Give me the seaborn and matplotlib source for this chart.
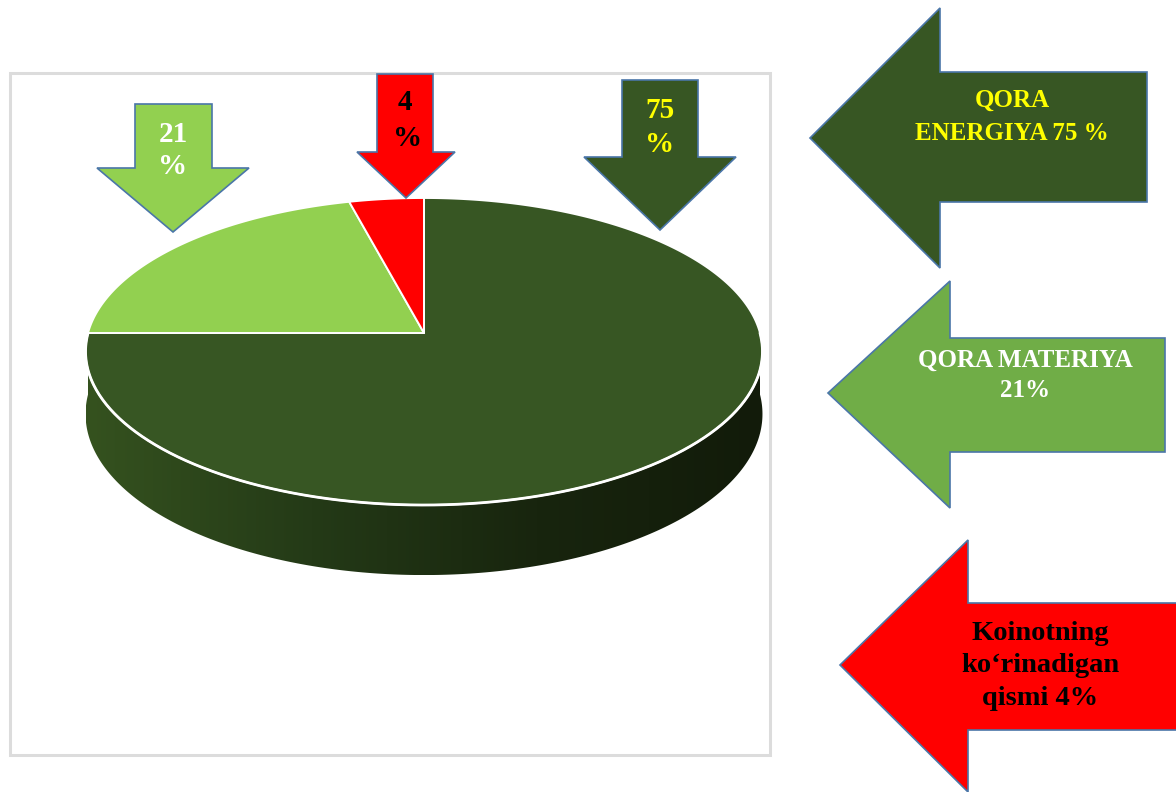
import numpy as np
import matplotlib
matplotlib.use("Agg")
import matplotlib.pyplot as plt
from matplotlib.patches import Polygon, Rectangle
from matplotlib.colors import LinearSegmentedColormap
import seaborn as sns

# ---- data -------------------------------------------------------------
shares = [75, 21, 4]                      # dark energy, dark matter, visible
slice_colors = ["#375623", "#92d050", "#ff0000"]
pct_labels = ["75\n%", "21\n%", "4\n%"]
pct_label_colors = ["#ffff00", "#ffffff", "#000000"]
callout_texts = ["QORA\nENERGIYA 75 %", "QORA MATERIYA\n21%",
                 "Koinotning\nko\u2018rinadigan\nqismi 4%"]
callout_fill = ["#375623", "#70ad47", "#ff0000"]
callout_text_colors = ["#ffff00", "#ffffff", "#000000"]

sns.set_theme(style="white")
plt.rcParams["font.family"] = ["Liberation Serif", "DejaVu Serif"]

W, H = 1176, 792
fig = plt.figure(figsize=(W / 100, H / 100), dpi=100)
ax = fig.add_axes([0, 0, 1, 1])
ax.set_xlim(0, W)
ax.set_ylim(H, 0)
ax.axis("off")

OUTLINE = "#4a76a8"

# chart frame
ax.add_patch(Rectangle((10, 73), 760, 682, fill=False, ec="#dcdcdc", lw=2.2, zorder=1))

# ---- 3D pie -------------------------------------------------------------
cx, cy = 424, 333          # projected centre of the disc
R, K, D = 336, 151.3, 8.3  # radius, depth scale, perspective distance
thick = 61.6


def project(phi, drop=0.0):
    u, v = np.cos(phi), np.sin(phi)
    s = D / (D + v)
    return cx + R * u * s, cy - K * v * s + drop * s


# side wall (front half)
phis = np.linspace(np.pi, 2 * np.pi, 300)
tx, ty = project(phis)
bx, by = project(phis[::-1], thick)
side = Polygon(np.column_stack([np.r_[tx, bx], np.r_[ty, by]]), closed=True,
               fc="none", ec="none", zorder=2)
ax.add_patch(side)
grad_cmap = LinearSegmentedColormap.from_list(
    "wall", ["#35521f", "#243a17", "#18250e", "#121b0a"])
grad = np.linspace(0, 1, 256).reshape(1, -1)
img = ax.imshow(grad, cmap=grad_cmap, aspect="auto",
                extent=(tx.min(), tx.max(), by.max(), ty.min()), zorder=2)
img.set_clip_path(side)

# top slices: start at 12 o'clock, run clockwise
start = np.pi / 2
total = float(sum(shares))
for val, col in zip(shares, slice_colors):
    sweep = 2 * np.pi * val / total
    ang = np.linspace(start, start - sweep, max(int(val * 6), 20))
    px, py = project(ang)
    verts = np.column_stack([np.r_[cx, px], np.r_[cy, py]])
    ax.add_patch(Polygon(verts, closed=True, fc=col, ec="white", lw=1.4,
                         joinstyle="round", zorder=3))
    start -= sweep

# white rim along the front edge of the top face
ax.plot(tx, ty, color="white", lw=2.0, zorder=4, solid_capstyle="round")

# ---- downward percentage arrows ----------------------------------------
def down_arrow(xl, xr, top, head_y, hl, hr, tip, fc):
    tipx = (hl + hr) / 2
    pts = [(xl, top), (xr, top), (xr, head_y), (hr, head_y), (tipx, tip),
           (hl, head_y), (xl, head_y)]
    ax.add_patch(Polygon(pts, closed=True, fc=fc, ec=OUTLINE, lw=1.2, zorder=5))


down_specs = [  # shaft left/right, top, head y, head left/right, tip
    (622, 698, 80, 157, 584, 736, 230),
    (135, 212, 104, 168, 97, 249, 232),
    (377, 433, 74, 152, 357, 455, 198),
]
label_pos = [(660, 110, 145), (173, 135, 167), (405, 103, 138)]
for spec, col, lab, tcol, (lx, y1, y2) in zip(down_specs, slice_colors, pct_labels,
                                             pct_label_colors, label_pos):
    down_arrow(*spec, fc=col)
    num, pct = lab.split("\n")
    ax.text(lx, y1, num, ha="center", va="center", color=tcol, fontsize=21,
            fontweight="bold", zorder=6)
    ax.text(lx + (3 if num == "4" else 0), y2, pct, ha="center", va="center",
            color=tcol, fontsize=21, fontweight="bold", zorder=6)

# ---- left-pointing callout arrows ---------------------------------------
def left_arrow(tipx, tipy, neck, head_top, head_bot, sh_top, sh_bot, right, fc):
    pts = [(tipx, tipy), (neck, head_top), (neck, sh_top), (right, sh_top),
           (right, sh_bot), (neck, sh_bot), (neck, head_bot)]
    ax.add_patch(Polygon(pts, closed=True, fc=fc, ec=OUTLINE, lw=1.2, zorder=5))


left_specs = [
    (810, 138, 940, 8, 268, 72, 202, 1147),
    (828, 393, 950, 281, 508, 338, 452, 1165),
    (840, 665, 968, 540, 792, 603, 730, 1182),
]
text_specs = [  # centre x, centre y, size, line spacing
    (1012, 117, 18, 1.55),
    (1025, 375, 18, 1.4),
    (1040, 666, 20.5, 1.4),
]
for spec, fc, txt, tcol, (tx_, ty_, fs, ls) in zip(left_specs, callout_fill,
                                                   callout_texts, callout_text_colors,
                                                   text_specs):
    left_arrow(*spec, fc=fc)
    ax.text(tx_, ty_, txt, ha="center", va="center", color=tcol, fontsize=fs,
            fontweight="bold", linespacing=ls, multialignment="center", zorder=6)

fig.savefig("out.png", dpi=100, facecolor="white")
